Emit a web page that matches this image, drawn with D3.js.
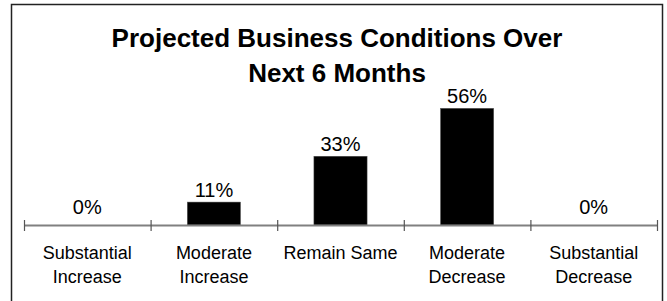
<!DOCTYPE html>
<html>
<head>
<meta charset="utf-8">
<script src="https://cdn.jsdelivr.net/npm/d3@7"></script>
<style>
  body { margin: 0; background: #fff; }
  svg { display: block; font-family: 'Liberation Sans', Arial, sans-serif; }
</style>
</head>
<body>
<div id="chart"></div>
<script>
// chart data
const categories = [
  ['Substantial', 'Increase'],
  ['Moderate', 'Increase'],
  ['Remain Same'],
  ['Moderate', 'Decrease'],
  ['Substantial', 'Decrease']
]
const values = [0, 0.11, 0.33, 0.56, 0]
const titleLines = ['Projected Business Conditions Over', 'Next 6 Months']

const width = 667, height = 301
const plot = {left: 24, right: 657, base: 225, top: 100}

const svg = d3.select('#chart').append('svg')
  .attr('width', width)
  .attr('height', height)

// outer frame
svg.append('rect')
  .attr('x', 11.5)
  .attr('y', 4.5)
  .attr('width', 651)
  .attr('height', 300)
  .attr('fill', 'none')
  .attr('stroke', '#222')
  .attr('stroke-width', 1.5)

// title
svg.append('g').selectAll('text')
  .data(titleLines).enter()
  .append('text')
    .attr('x', 337)
    .attr('y', (d, i) => 47 + i * 35)
    .attr('text-anchor', 'middle')
    .style('font-size', '26px')
    .style('font-weight', 'bold')
    .text((d) => d)

// scales
const idx = d3.range(categories.length)
const xScale = d3.scaleBand()
  .domain(idx)
  .range([plot.left, plot.right])
  .paddingInner(0.58)
  .paddingOuter(0.29)

const edgeScale = d3.scaleLinear()
  .domain([0, categories.length])
  .range([plot.left, plot.right])

const yScale = d3.scaleLinear()
  .domain([0, 0.6])
  .range([plot.base, plot.top])

// bars
svg.append('g').selectAll('rect')
  .data(values).enter()
  .append('rect')
    .attr('x', (d, i) => xScale(i))
    .attr('y', (d) => yScale(d))
    .attr('width', xScale.bandwidth())
    .attr('height', (d) => yScale(0) - yScale(d))
    .attr('fill', '#000')
    .attr('stroke', '#555')
    .attr('stroke-width', 0.5)

// axis with ticks at category boundaries
const axis = svg.append('g')
  .attr('transform', 'translate(0,' + plot.base + ')')
  .call(d3.axisBottom(edgeScale).ticks(categories.length).tickSizeOuter(0).tickFormat(''))

axis.select('.domain')
  .attr('stroke', '#808080')
  .attr('stroke-width', 2)
axis.selectAll('.tick line')
  .attr('stroke', '#555')
  .attr('stroke-width', 1.2)
  .attr('y1', -5)
  .attr('y2', 6)

// value labels
svg.append('g').selectAll('text')
  .data(values).enter()
  .append('text')
    .attr('x', (d, i) => xScale(i) + xScale.bandwidth() / 2)
    .attr('y', (d) => yScale(d) - (d === 0 ? 11 : 5))
    .attr('text-anchor', 'middle')
    .style('font-size', '20px')
    .text((d) => d3.format('.0%')(d))

// category labels
const catLabels = svg.append('g').selectAll('text')
  .data(categories).enter()
  .append('text')
    .attr('text-anchor', 'middle')
    .style('font-size', '18px')

catLabels.selectAll('tspan')
  .data((d, i) => d.map((line) => ({line: line, i: i})))
  .enter()
  .append('tspan')
    .attr('x', (d) => xScale(d.i) + xScale.bandwidth() / 2)
    .attr('y', (d, j) => 259 + j * 24)
    .text((d) => d.line)
</script>
</body>
</html>
